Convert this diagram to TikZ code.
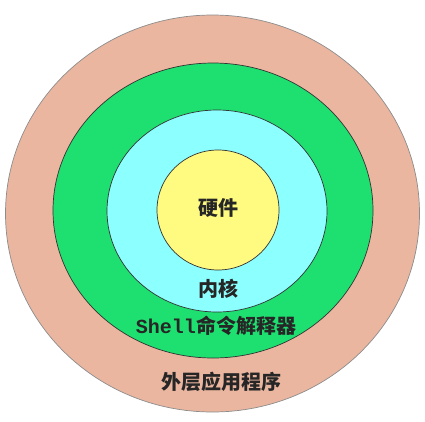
\documentclass[tikz,border=0pt]{standalone}
\usepackage{fontspec}
\newfontfamily\cjk{Noto Sans CJK SC}
\setmonofont{Liberation Mono}
\usetikzlibrary{shapes.geometric}

\definecolor{appcolor}{RGB}{234,182,160}
\definecolor{shellcolor}{RGB}{30,224,112}
\definecolor{kernelcolor}{RGB}{140,255,255}
\definecolor{hwcolor}{RGB}{255,250,128}

\begin{document}
\begin{tikzpicture}[
    x=1pt, y=-1pt,
    ring/.style={ellipse, draw=black!80, line width=0.7pt, inner sep=0pt},
    ring_label/.style={font=\cjk\bfseries\fontsize{20}{20}\selectfont, text=black!85, inner sep=1pt}
]
    \useasboundingbox (0,0) rectangle (425,421);

    % Rings, from the outside in
    \node[ring, fill=appcolor, draw=black!45, minimum width=414pt, minimum height=397pt] (apps) at (212.5,213.5) {};
    \node[ring, fill=shellcolor, minimum width=320pt, minimum height=295pt] (shell) at (213,210.5) {};
    \node[ring, fill=kernelcolor, minimum width=220pt, minimum height=202pt] (kernel) at (217,211) {};
    \node[ring, fill=hwcolor, minimum width=122pt, minimum height=120pt] (hw) at (218,210) {};

    % Labels
    \node[ring_label] (hw_label) at (218,208) {硬件};
    \node[ring_label] (kernel_label) at (218,289) {内核};
    \node[ring_label] (shell_label) at (216,326) {{\ttfamily Shell}命令解释器};
    \node[ring_label] (apps_label) at (221,382) {外层应用程序};

\end{tikzpicture}
\end{document}
